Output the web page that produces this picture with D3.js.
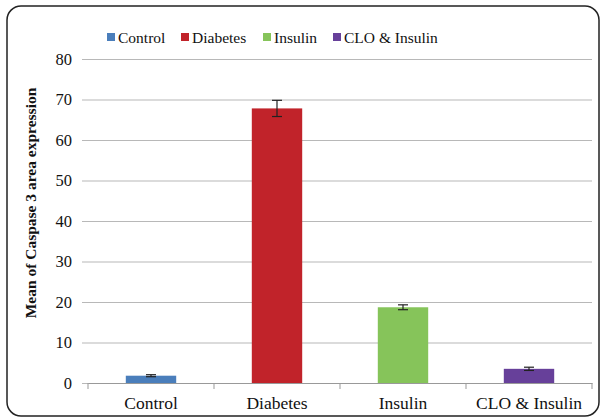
<!DOCTYPE html>
<html>
<head>
<meta charset="utf-8">
<script src="https://cdn.jsdelivr.net/npm/d3@7"></script>
<style>
  body { margin: 0; background: #fff; }
  text { font-family: "Liberation Serif", "DejaVu Serif", serif; }
</style>
</head>
<body>
<div id="chart"></div>
<script>
// chart data
var groups = ["Control", "Diabetes", "Insulin", "CLO & Insulin"];
var means = [1.8, 67.8, 18.7, 3.5];
var errors = [0.25, 2.0, 0.6, 0.4];
var colors = ["#4a7ebb", "#c1232a", "#86c45a", "#67409a"];
var yTicks = [0, 10, 20, 30, 40, 50, 60, 70, 80];

var W = 604, H = 417;
var margin = {left: 88, right: 12, top: 59, bottom: 34};

var svg = d3.select("#chart").append("svg")
    .attr("width", W)
    .attr("height", H);

// rounded frame round the chart
svg.append("rect")
    .attr("x", 7).attr("y", 6)
    .attr("width", 592).attr("height", 410)
    .attr("rx", 14)
    .attr("fill", "none")
    .attr("stroke", "#222")
    .attr("stroke-width", 1.5);

var x = d3.scaleBand()
    .domain(groups)
    .range([margin.left, W - margin.right])
    .paddingInner(0.6)
    .paddingOuter(0.3);

var y = d3.scaleLinear()
    .domain([0, 80])
    .range([H - margin.bottom, margin.top]);

// gridlines + y tick labels
var yAxis = d3.axisLeft(y)
    .tickValues(yTicks)
    .tickSize(-(W - margin.right - margin.left + 6))
    .tickPadding(10);

var gy = svg.append("g")
    .attr("transform", "translate(" + (margin.left - 6) + ",0)")
    .call(yAxis);
gy.select(".domain").remove();
gy.selectAll(".tick line")
    .attr("stroke", "#b8b8b8")
    .attr("stroke-width", 1.2);
gy.selectAll(".tick text")
    .attr("font-size", 16.5)
    .attr("fill", "#111");

// category axis at zero
var xAxis = d3.axisBottom(x).tickSize(0).tickPadding(14);
var gx = svg.append("g")
    .attr("transform", "translate(0," + y(0) + ")")
    .call(xAxis);
gx.select(".domain").attr("stroke", "#999").attr("stroke-width", 1.2);
gx.selectAll(".tick text")
    .attr("font-size", 17.5)
    .attr("fill", "#111");

// small ticks between the categories
var bounds = d3.range(groups.length + 1).map(function(i) { return margin.left + i * (W - margin.right - margin.left) / groups.length; });
gx.selectAll(".sep")
    .data(bounds)
    .enter().append("line")
    .attr("x1", function(d) { return d; })
    .attr("x2", function(d) { return d; })
    .attr("y1", 0).attr("y2", 6)
    .attr("stroke", "#999");

// bars
svg.selectAll(".bar")
    .data(groups)
    .enter().append("rect")
    .attr("class", "bar")
    .attr("x", function(d) { return x(d); })
    .attr("width", x.bandwidth())
    .attr("y", function(d, i) { return y(means[i]); })
    .attr("height", function(d, i) { return y(0) - y(means[i]); })
    .attr("fill", function(d, i) { return colors[i]; });

// error bars
var eb = svg.selectAll(".err")
    .data(groups)
    .enter().append("g")
    .attr("stroke", "#222")
    .attr("stroke-width", 1.2);
eb.append("line")
    .attr("x1", function(d) { return x(d) + x.bandwidth() / 2; })
    .attr("x2", function(d) { return x(d) + x.bandwidth() / 2; })
    .attr("y1", function(d, i) { return y(means[i] - errors[i]); })
    .attr("y2", function(d, i) { return y(means[i] + errors[i]); });
[-1, 1].forEach(function(s) {
    eb.append("line")
        .attr("x1", function(d) { return x(d) + x.bandwidth() / 2 - 5; })
        .attr("x2", function(d) { return x(d) + x.bandwidth() / 2 + 5; })
        .attr("y1", function(d, i) { return y(means[i] + s * errors[i]); })
        .attr("y2", function(d, i) { return y(means[i] + s * errors[i]); });
});

// y axis title
svg.append("text")
    .attr("transform", "translate(36," + ((y(0) + y(80)) / 2 - 18) + ") rotate(-90)")
    .attr("text-anchor", "middle")
    .attr("font-size", 15.5)
    .attr("font-weight", "bold")
    .attr("fill", "#111")
    .text("Mean of Caspase 3 area expression");

// legend
var legendX = [107, 181, 263, 333];
var lg = svg.selectAll(".leg")
    .data(groups)
    .enter().append("g")
    .attr("transform", function(d, i) { return "translate(" + legendX[i] + ",37)"; });
lg.append("rect")
    .attr("x", 0).attr("y", -4)
    .attr("width", 8).attr("height", 8)
    .attr("fill", function(d, i) { return colors[i]; });
lg.append("text")
    .attr("x", 11)
    .attr("y", 5.5)
    .attr("font-size", 15.5)
    .attr("fill", "#111")
    .text(function(d) { return d; });
</script>
</body>
</html>
